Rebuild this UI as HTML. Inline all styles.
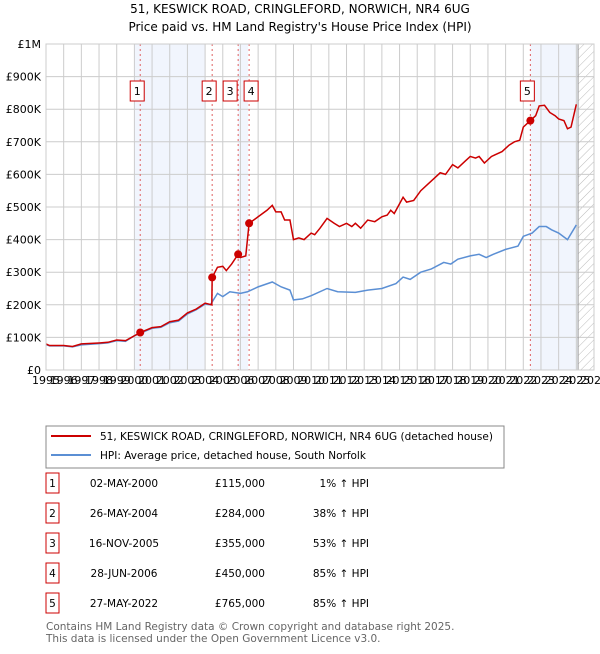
<!DOCTYPE html>
<html><head><meta charset="utf-8"><style>
body{margin:0;background:#fff;font-family:"DejaVu Sans","Liberation Sans",sans-serif;}
</style></head><body>
<svg width="600" height="650" xmlns="http://www.w3.org/2000/svg" font-family="DejaVu Sans, Liberation Sans, sans-serif" id="svg">
<text x="300" y="13" text-anchor="middle" font-size="12">51, KESWICK ROAD, CRINGLEFORD, NORWICH, NR4 6UG</text>
<text x="300" y="31" text-anchor="middle" font-size="12">Price paid vs. HM Land Registry's House Price Index (HPI)</text>
<defs><pattern id="hatch" width="6" height="6" patternUnits="userSpaceOnUse" patternTransform="rotate(45)"><line x1="0" y1="0" x2="0" y2="6" stroke="#bbb" stroke-width="1"/></pattern></defs>
<g id="plot"></g>
<g>
<rect x="46" y="426" width="458" height="42" fill="#fff" stroke="#888"/>
<line x1="51" y1="436" x2="91" y2="436" stroke="#cc0000" stroke-width="2"/>
<text x="100" y="440" font-size="10.5">51, KESWICK ROAD, CRINGLEFORD, NORWICH, NR4 6UG (detached house)</text>
<line x1="51" y1="455" x2="91" y2="455" stroke="#5b8fd4" stroke-width="2"/>
<text x="100" y="459" font-size="10.5">HPI: Average price, detached house, South Norfolk</text>
</g>
<g id="table"></g>
<text x="46" y="630" font-size="10.5" fill="#666">Contains HM Land Registry data © Crown copyright and database right 2025.</text>
<text x="46" y="642" font-size="10.5" fill="#666">This data is licensed under the Open Government Licence v3.0.</text>
</svg>
<script>
const yTicks=[0,100,200,300,400,500,600,700,800,900,1000];
const yLabels=["£0","£100K","£200K","£300K","£400K","£500K","£600K","£700K","£800K","£900K","£1M"];
const years=[1995,1996,1997,1998,1999,2000,2001,2002,2003,2004,2005,2006,2007,2008,2009,2010,2011,2012,2013,2014,2015,2016,2017,2018,2019,2020,2021,2022,2023,2024,2025,2026];
const redX=[1995,1995.2,1996,1996.5,1997,1998,1998.5,1999,1999.5,2000.33,2001,2001.5,2002,2002.5,2003,2003.5,2004,2004.38,2004.4,2004.7,2005,2005.2,2005.5,2005.87,2006,2006.3,2006.49,2007,2007.5,2007.8,2008,2008.3,2008.5,2008.8,2009,2009.3,2009.6,2010,2010.2,2010.5,2010.9,2011.3,2011.6,2012,2012.3,2012.5,2012.8,2013.2,2013.6,2014,2014.3,2014.5,2014.7,2015.2,2015.4,2015.8,2016.2,2016.6,2017,2017.3,2017.6,2018,2018.3,2018.7,2019,2019.3,2019.5,2019.8,2020.2,2020.4,2020.8,2021.2,2021.5,2021.8,2022,2022.4,2022.7,2022.9,2023.2,2023.5,2023.8,2024,2024.3,2024.5,2024.7,2025];
const redV=[80,75,75,72,80,83,85,92,90,115,130,133,148,153,175,187,205,200,284,315,318,305,325,355,345,350,450,470,490,505,485,485,460,460,400,405,400,420,415,435,465,450,440,450,440,450,435,460,455,470,475,490,480,530,515,520,550,570,590,605,600,630,620,640,655,650,655,635,655,660,670,690,700,705,745,765,780,810,812,790,780,770,765,740,745,815];
const blueX=[1995,1995.2,1996,1996.5,1997,1998,1998.5,1999,1999.5,2000,2000.33,2001,2001.5,2002,2002.5,2003,2003.5,2004,2004.3,2004.7,2005,2005.4,2006,2006.4,2007,2007.8,2008.3,2008.8,2009,2009.5,2010,2010.9,2011.5,2012.5,2013.2,2014,2014.8,2015.2,2015.6,2016.2,2016.8,2017.5,2017.9,2018.3,2019,2019.5,2019.9,2020.3,2021,2021.7,2022,2022.5,2022.9,2023.3,2023.6,2024,2024.5,2025];
const blueV=[78,74,74,71,77,81,83,90,88,105,113,128,131,145,150,172,185,202,200,235,225,240,235,240,255,270,255,245,215,218,228,250,240,238,245,250,265,285,278,300,310,330,325,340,350,355,345,355,370,380,410,420,440,440,430,420,400,445];
const saleX=[2000.33,2004.4,2005.87,2006.49,2022.4];
const saleV=[115,284,355,450,765];
const saleIds=["1","2","3","4","5"];
const saleDates=["02-MAY-2000","26-MAY-2004","16-NOV-2005","28-JUN-2006","27-MAY-2022"];
const salePrices=["£115,000","£284,000","£355,000","£450,000","£765,000"];
const salePct=["1% ↑ HPI","38% ↑ HPI","53% ↑ HPI","85% ↑ HPI","85% ↑ HPI"];
const bands=[[2000.0,2004.0],[2005.87,2006.43],[2022.4,2025.1]];
const NS="http://www.w3.org/2000/svg";
const L=46,R=594,T=44,B=370,x0=1995,x1=2026;
const sx=v=>L+(v-x0)/(x1-x0)*(R-L);
const sy=v=>B-v/1000*(B-T);
function mk(tag,at,parent){const e=document.createElementNS(NS,tag);for(const k in at)e.setAttribute(k,at[k]);parent.appendChild(e);return e;}
const plot=document.getElementById('plot');
bands.forEach(b=>{const r=mk('rect',{x:sx(b[0]),y:T,width:sx(b[1])-sx(b[0]),height:B-T,fill:'#eef3fc',opacity:0.8},plot);

});
const h=mk('rect',{x:sx(2025.1),y:T,width:R-sx(2025.1),height:B-T,fill:'url(#hatch)'},plot);


years.forEach(y=>{const g=mk('line',{x1:sx(y),x2:sx(y),y1:T,y2:B,stroke:'#ccc'},plot);


const t=mk('text',{x:sx(y),y:B+14,'font-size':11,'text-anchor':'middle'},plot);
t.textContent=y;

});
yTicks.forEach((v,i)=>{const g=mk('line',{x1:L,x2:R,y1:sy(v),y2:sy(v),stroke:'#ccc'},plot);


const t=mk('text',{x:L-5,y:sy(v)+4,'font-size':11,'text-anchor':'end'},plot);
t.textContent=yLabels[i];

});
const el=mk('line',{x1:sx(2025.1),x2:sx(2025.1),y1:T,y2:B,stroke:'#999'},plot);


saleX.forEach((x,i)=>{const d=mk('line',{x1:sx(x),x2:sx(x),y1:T,y2:B,stroke:'#e06060','stroke-dasharray':'2,3'},plot);

});
const bp=mk('polyline',{points:blueX.map((x,i)=>sx(x)+','+sy(blueV[i])).join(' '),fill:'none',stroke:'#5b8fd4','stroke-width':1.5},plot);


const rp=mk('polyline',{points:redX.map((x,i)=>sx(x)+','+sy(redV[i])).join(' '),fill:'none',stroke:'#cc0000','stroke-width':1.5},plot);


mk('rect',{x:L,y:T,width:R-L,height:B-T,fill:'none',stroke:'#ccc'},plot);
const boxX=[0,0,-5,5,0];
saleX.forEach((x,i)=>{const c=mk('circle',{cx:sx(x),cy:sy(saleV[i]),r:4,fill:'#cc0000'},plot);


const cx=sx(x)+boxX[i]-3;
const b=mk('rect',{x:cx-7,y:81,width:14,height:20,fill:'#fff',stroke:'#cc0000'},plot);


const t=mk('text',{x:cx,y:95,'font-size':11,'text-anchor':'middle'},plot);
t.textContent=saleIds[i];

});
const tb=document.getElementById('table');
saleIds.forEach((id,i)=>{const y=483+i*30;
const b=mk('rect',{x:46,y:y-10,width:13,height:20,fill:'#fff',stroke:'#cc0000'},tb);


const cells=[[52.5,'middle',id],[124,'middle',saleDates[i]],[265,'end',salePrices[i]],[369,'end',salePct[i]]];
cells.forEach(c=>{const t=mk('text',{x:c[0],y:y+4,'font-size':10.5,'text-anchor':c[1]},tb);t.textContent=c[2];

});});
</script>
</body></html>
